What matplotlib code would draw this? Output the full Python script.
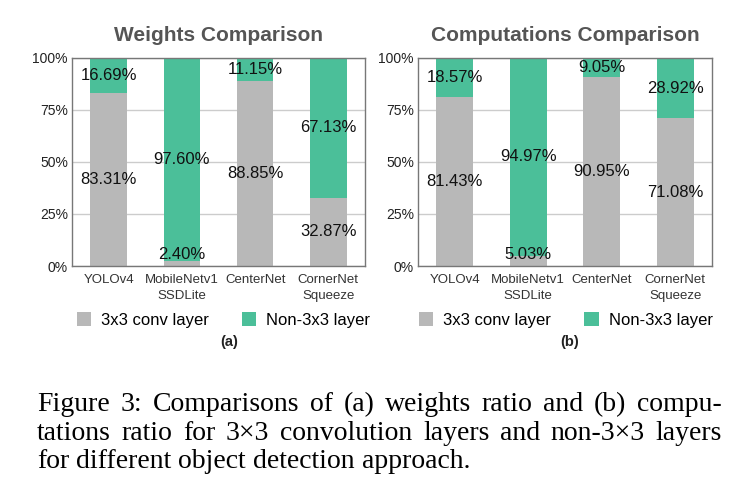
import matplotlib
matplotlib.use('Agg')
import matplotlib.pyplot as plt
import numpy as np

plt.rcParams['font.family'] = ['Liberation Sans', 'DejaVu Sans']

# 數據
models = ['YOLOv4', 'MobileNetv1\nSSDLite', 'CenterNet', 'CornerNet\nSqueeze']
weights_conv = [83.31, 2.40, 88.85, 32.87]
weights_other = [16.69, 97.60, 11.15, 67.13]
comp_conv = [81.43, 5.03, 90.95, 71.08]
comp_other = [18.57, 94.97, 9.05, 28.92]
titles = ['Weights Comparison', 'Computations Comparison']
tags = ['(a)', '(b)']
legend_labels = ['3x3 conv layer', 'Non-3x3 layer']

GRAY = '#b8b8b8'
GREEN = '#4bbf99'

fig = plt.figure(figsize=(7.52, 4.97), dpi=100)
W, H = 752, 497

def box(x0, y0, x1, y1):
    return [x0 / W, 1 - y1 / H, (x1 - x0) / W, (y1 - y0) / H]

panels = [
    (box(72, 58, 365, 266), weights_conv, weights_other, 0.517, 10.5),
    (box(418, 58, 712, 266), comp_conv, comp_other, 0.503, 5),
]

for i, (rect, conv, other, leg_x, tag_dx) in enumerate(panels):
    ax = fig.add_axes(rect)
    x = np.arange(len(models))
    ax.bar(x, conv, width=0.5, color=GRAY, zorder=2, label=legend_labels[0])
    ax.bar(x, other, width=0.5, bottom=conv, color=GREEN, zorder=2, label=legend_labels[1])
    ax.set_xlim(-0.5, 3.5)
    ax.set_ylim(0, 100)
    ax.set_yticks([0, 25, 50, 75, 100])
    ax.set_yticklabels(['0%', '25%', '50%', '75%', '100%'], fontsize=10, color='#222222')
    ax.set_xticks(x)
    ax.set_xticklabels(models, fontsize=9.5, color='#333333', linespacing=1.45)
    ax.tick_params(length=0, pad=3)
    ax.tick_params(axis='x', pad=6)
    ax.grid(axis='y', color='#cccccc', linewidth=1, zorder=0)
    for s in ax.spines.values():
        s.set_color('#777777')
        s.set_linewidth(1)

    # 數值標籤
    for xi, c, o in zip(x, conv, other):
        ax.text(xi, max(c / 2, 5.5), f'{c:.2f}%', ha='center', va='center', fontsize=12, color='#111111', zorder=3)
        ax.text(xi, c + o / 2, f'{o:.2f}%', ha='center', va='center', fontsize=12, color='#111111', zorder=3)

    ax.set_title(titles[i], fontsize=15, fontweight='bold', color='#555555', pad=12)
    ax.legend(loc='center', bbox_to_anchor=(leg_x, -0.26), ncol=2, frameon=False,
              fontsize=12, handlelength=0.85, handleheight=0.85, handletextpad=0.6,
              columnspacing=2.0, borderaxespad=0)
    cx = rect[0] + rect[2] / 2
    fig.text(cx + tag_dx / W, 1 - 342 / H, tags[i], ha='center', va='center', fontsize=10.5,
             fontweight='bold', color='#222222')

# 圖說（左右對齊）
caption = [
    'Figure 3: Comparisons of (a) weights ratio and (b) compu-',
    'tations ratio for 3\u00d73 convolution layers and non-3\u00d73 layers',
    'for different object detection approach.',
]
serif = ['Liberation Serif', 'DejaVu Serif']
cap_left, cap_right = 37, 722
baselines = [411, 439.5, 468]
cap_size = 20
renderer = fig.canvas.get_renderer()
for j, line in enumerate(caption):
    words = line.split(' ')
    texts = [fig.text(0, 1 - baselines[j] / H, w, ha='left', va='baseline', fontsize=cap_size,
                      family=serif, color='black') for w in words]
    widths = [t.get_window_extent(renderer).width for t in texts]
    if j < len(caption) - 1:
        gap = (cap_right - cap_left - sum(widths)) / (len(words) - 1)
    else:
        gap = cap_size * 100 / 72 * 0.25
    xpos = cap_left
    for t, w in zip(texts, widths):
        t.set_x(xpos / W)
        xpos += w + gap

fig.savefig('out.png', dpi=100, facecolor='white')
